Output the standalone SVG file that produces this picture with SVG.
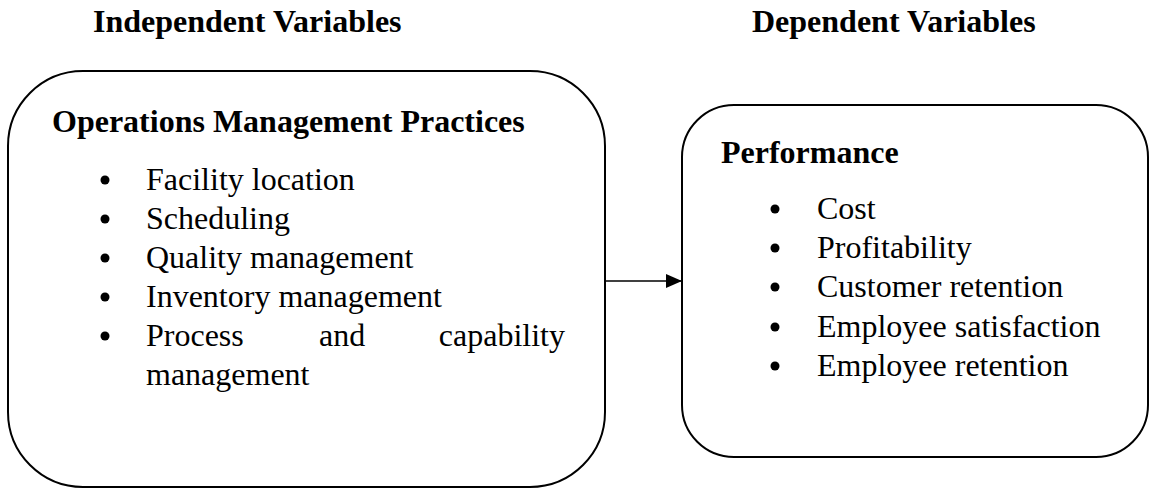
<svg xmlns="http://www.w3.org/2000/svg" width="1150" height="489" viewBox="0 0 1150 489">
  <style>
    .head { font-family: "Liberation Serif", "Times New Roman", serif; font-size: 32px; font-weight: bold; fill: #000; }
    .item { font-family: "Liberation Serif", "Times New Roman", serif; font-size: 32px; fill: #000; }
    .box { fill: #fff; stroke: #000; stroke-width: 2; }
    .dot { fill: #000; }
    .link { stroke: #000; stroke-width: 1.5; fill: none; }
  </style>
  <defs>
    <marker id="arrowhead" markerWidth="16" markerHeight="14" refX="16" refY="7" orient="auto" markerUnits="userSpaceOnUse">
      <path d="M0,0 L16,7 L0,14 Z" fill="#000"/>
    </marker>
  </defs>
  <rect width="1150" height="489" fill="#fff"/>

  <!-- column headings -->
  <text class="head" x="93" y="32">Independent Variables</text>
  <text class="head" x="752" y="32">Dependent Variables</text>

  <!-- independent variables -->
  <g id="practices">
    <rect class="box" x="8" y="71" width="597" height="416" rx="75" ry="75"/>
    <text class="head" x="52" y="132">Operations Management Practices</text>
    <circle class="dot" cx="105" cy="180" r="4.5"/>
    <text class="item" x="146" y="190">Facility location</text>
    <circle class="dot" cx="105" cy="219" r="4.5"/>
    <text class="item" x="146" y="229">Scheduling</text>
    <circle class="dot" cx="105" cy="258" r="4.5"/>
    <text class="item" x="146" y="268">Quality management</text>
    <circle class="dot" cx="105" cy="297" r="4.5"/>
    <text class="item" x="146" y="307">Inventory management</text>
    <circle class="dot" cx="105" cy="336" r="4.5"/>
    <text class="item" x="146" y="346">Process</text>
    <text class="item" x="319" y="346">and</text>
    <text class="item" x="565" y="346" text-anchor="end">capability</text>
    <text class="item" x="146" y="385">management</text>
  </g>

  <!-- dependent variables -->
  <g id="performance">
    <rect class="box" x="682" y="105" width="466" height="352" rx="52" ry="52"/>
    <text class="head" x="721" y="163">Performance</text>
    <circle class="dot" cx="775" cy="209" r="4.5"/>
    <text class="item" x="817" y="219">Cost</text>
    <circle class="dot" cx="775" cy="248" r="4.5"/>
    <text class="item" x="817" y="258">Profitability</text>
    <circle class="dot" cx="775" cy="287" r="4.5"/>
    <text class="item" x="817" y="297">Customer retention</text>
    <circle class="dot" cx="775" cy="327" r="4.5"/>
    <text class="item" x="817" y="337">Employee satisfaction</text>
    <circle class="dot" cx="775" cy="366" r="4.5"/>
    <text class="item" x="817" y="376">Employee retention</text>
  </g>

  <g id="connectors">
    <line class="link" x1="606" y1="281" x2="682" y2="281" marker-end="url(#arrowhead)"/>
  </g>
</svg>
